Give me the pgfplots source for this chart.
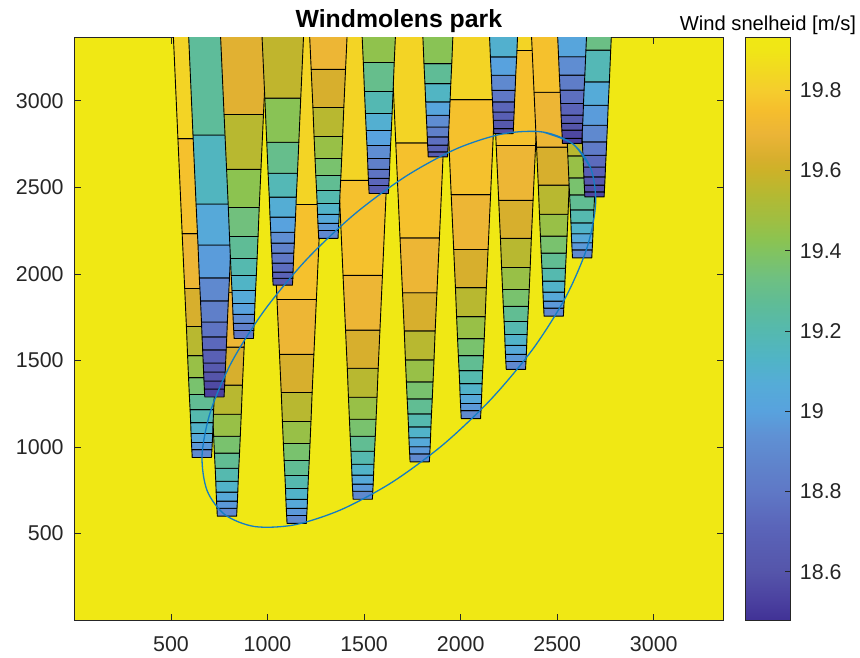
\documentclass[border=0pt]{standalone}
\usepackage{fontspec}
\setmainfont{Liberation Sans}
\usepackage{pgfplots}
\pgfplotsset{compat=1.18}
\usepgfplotslibrary{patchplots}
\definecolor{axgray}{gray}{0.15}
\definecolor{ellblue}{RGB}{20,125,195}
\definecolor{bgyellow}{RGB}{240,232,20}
\pgfplotsset{wake/.style={patch, patch type=rectangle, shader=faceted, faceted color=black, line width=0.45bp, point meta=explicit}}
\begin{document}
\begin{tikzpicture}
\useasboundingbox (-37.2bp,-19bp) rectangle (392.8bp,310bp);
\begin{axis}[
  at={(0,0)}, anchor=south west,
  scale only axis, width=324.45bp, height=291.05bp,
  xmin=0, xmax=3360, ymin=0, ymax=3364,
  xtick={500,1000,1500,2000,2500,3000}, xticklabels={500,1000,1500,2000,2500,3000},
  ytick={500,1000,1500,2000,2500,3000}, yticklabels={500,1000,1500,2000,2500,3000},
  tick align=inside, major tick length=3.2bp,
  axis line style={axgray, line width=0.4bp},
  tick style={axgray, line width=0.4bp},
  every tick label/.append style={font=\fontsize{10.7bp}{12bp}\selectfont, text=axgray},
  xticklabel style={yshift=-4.7bp},
  yticklabel style={xshift=-1.9bp},
  axis background/.style={fill=bgyellow},
  every axis title shift=0pt,
  title={Windmolens park},
  title style={font=\bfseries\fontsize{12.4bp}{14bp}\selectfont, at={(0.5,1)}, anchor=base, yshift=5.2bp},
  colormap={refparula}{
    rgb255(0cm)=(65,50,150) rgb255(5cm)=(75,65,160) rgb255(12cm)=(85,85,170)
    rgb255(23cm)=(90,100,185) rgb255(32cm)=(95,120,198) rgb255(38cm)=(95,130,203)
    rgb255(46cm)=(95,145,212) rgb255(52cm)=(88,162,222) rgb255(59cm)=(85,172,215)
    rgb255(65cm)=(80,180,198) rgb255(72cm)=(85,185,175) rgb255(79cm)=(95,188,150)
    rgb255(85cm)=(110,192,130) rgb255(92cm)=(130,195,95) rgb255(95cm)=(140,195,80)
    rgb255(100cm)=(160,190,65) rgb255(106cm)=(180,185,50) rgb255(112cm)=(205,178,40)
    rgb255(115cm)=(215,175,45) rgb255(121cm)=(235,180,55) rgb255(127cm)=(245,190,45)
    rgb255(132cm)=(245,205,45) rgb255(136cm)=(242,215,35) rgb255(142cm)=(240,230,22)
    rgb255(145cm)=(240,232,20)},
  point meta min=18.48, point meta max=19.93,
  colorbar,
  colorbar/width=22.2bp,
  colorbar style={
    at={(parent axis.north east)}, anchor=north west, xshift=2.7bp,
    scale only axis, height=291.05bp,
    ytick={18.6,18.8,19,19.2,19.4,19.6,19.8},
    yticklabels={18.6,18.8,19,19.2,19.4,19.6,19.8},
    ytick pos=right, yticklabel pos=right,
    tick align=inside, major tick length=2.5bp,
    axis line style={axgray, line width=0.4bp},
    tick style={axgray, line width=0.4bp},
    yticklabel style={font=\fontsize{10.7bp}{12bp}\selectfont, text=axgray, xshift=1.4bp},
    every axis title shift=0pt,
    title={Wind snelheid [m/s]},
    title style={font=\mdseries\fontsize{10.1bp}{12bp}\selectfont, at={(0.5,1)}, anchor=base, yshift=3.9bp},
  },
]
% T3
\addplot[wake] table[row sep=\\, meta=c] {x y c\\
1101 558 18.90\\1201 558 18.90\\1203 604 18.90\\1099 604 18.90\\
1099 604 18.97\\1203 604 18.97\\1205 645 18.97\\1097 645 18.97\\
1097 645 19.05\\1205 645 19.05\\1207 697 19.05\\1095 697 19.05\\
1095 697 19.12\\1207 697 19.12\\1209 760 19.12\\1093 760 19.12\\
1093 760 19.20\\1209 760 19.20\\1212 835 19.20\\1090 835 19.20\\
1090 835 19.28\\1212 835 19.28\\1216 922 19.28\\1086 922 19.28\\
1086 922 19.37\\1216 922 19.37\\1220 1020 19.37\\1082 1020 19.37\\
1082 1020 19.46\\1220 1020 19.46\\1225 1147 19.46\\1077 1147 19.46\\
1077 1147 19.55\\1225 1147 19.55\\1231 1315 19.55\\1071 1315 19.55\\
1071 1315 19.63\\1231 1315 19.63\\1240 1535 19.63\\1062 1535 19.63\\
1062 1535 19.70\\1240 1535 19.70\\1253 1852 19.70\\1049 1852 19.70\\
1049 1852 19.76\\1253 1852 19.76\\1275 2401 19.76\\1027 2401 19.76\\
1027 2401 19.83\\1275 2401 19.83\\1315 3407 19.83\\987 3407 19.83\\
};
% T2
\addplot[wake] table[row sep=\\, meta=c] {x y c\\
740 600 18.90\\840 600 18.90\\842 646 18.90\\738 646 18.90\\
738 646 18.97\\842 646 18.97\\844 687 18.97\\736 687 18.97\\
736 687 19.05\\844 687 19.05\\846 739 19.05\\734 739 19.05\\
734 739 19.12\\846 739 19.12\\848 802 19.12\\732 802 19.12\\
732 802 19.20\\848 802 19.20\\851 877 19.20\\729 877 19.20\\
729 877 19.28\\851 877 19.28\\855 964 19.28\\725 964 19.28\\
725 964 19.37\\855 964 19.37\\859 1062 19.37\\721 1062 19.37\\
721 1062 19.46\\859 1062 19.46\\864 1189 19.46\\716 1189 19.46\\
716 1189 19.55\\864 1189 19.55\\870 1357 19.55\\710 1357 19.55\\
710 1357 19.63\\870 1357 19.63\\879 1577 19.63\\701 1577 19.63\\
701 1577 19.70\\879 1577 19.70\\892 1894 19.70\\688 1894 19.70\\
688 1894 19.76\\892 1894 19.76\\914 2443 19.76\\666 2443 19.76\\
666 2443 19.83\\914 2443 19.83\\954 3449 19.83\\626 3449 19.83\\
};
% T4
\addplot[wake] table[row sep=\\, meta=c] {x y c\\
1443 698 18.90\\1543 698 18.90\\1545 744 18.90\\1441 744 18.90\\
1441 744 18.97\\1545 744 18.97\\1547 785 18.97\\1439 785 18.97\\
1439 785 19.05\\1547 785 19.05\\1549 837 19.05\\1437 837 19.05\\
1437 837 19.12\\1549 837 19.12\\1551 900 19.12\\1435 900 19.12\\
1435 900 19.20\\1551 900 19.20\\1554 975 19.20\\1432 975 19.20\\
1432 975 19.28\\1554 975 19.28\\1558 1062 19.28\\1428 1062 19.28\\
1428 1062 19.37\\1558 1062 19.37\\1562 1160 19.37\\1424 1160 19.37\\
1424 1160 19.46\\1562 1160 19.46\\1567 1287 19.46\\1419 1287 19.46\\
1419 1287 19.55\\1567 1287 19.55\\1573 1455 19.55\\1413 1455 19.55\\
1413 1455 19.63\\1573 1455 19.63\\1582 1675 19.63\\1404 1675 19.63\\
1404 1675 19.70\\1582 1675 19.70\\1595 1992 19.70\\1391 1992 19.70\\
1391 1992 19.76\\1595 1992 19.76\\1617 2541 19.76\\1369 2541 19.76\\
1369 2541 19.83\\1617 2541 19.83\\1657 3547 19.83\\1329 3547 19.83\\
};
% T5
\addplot[wake] table[row sep=\\, meta=c] {x y c\\
1738 914 18.90\\1838 914 18.90\\1840 960 18.90\\1736 960 18.90\\
1736 960 18.97\\1840 960 18.97\\1842 1001 18.97\\1734 1001 18.97\\
1734 1001 19.05\\1842 1001 19.05\\1844 1053 19.05\\1732 1053 19.05\\
1732 1053 19.12\\1844 1053 19.12\\1846 1116 19.12\\1730 1116 19.12\\
1730 1116 19.20\\1846 1116 19.20\\1849 1191 19.20\\1727 1191 19.20\\
1727 1191 19.28\\1849 1191 19.28\\1853 1278 19.28\\1723 1278 19.28\\
1723 1278 19.37\\1853 1278 19.37\\1857 1376 19.37\\1719 1376 19.37\\
1719 1376 19.46\\1857 1376 19.46\\1862 1503 19.46\\1714 1503 19.46\\
1714 1503 19.55\\1862 1503 19.55\\1868 1671 19.55\\1708 1671 19.55\\
1708 1671 19.63\\1868 1671 19.63\\1877 1891 19.63\\1699 1891 19.63\\
1699 1891 19.70\\1877 1891 19.70\\1890 2208 19.70\\1686 2208 19.70\\
1686 2208 19.76\\1890 2208 19.76\\1912 2757 19.76\\1664 2757 19.76\\
1664 2757 19.83\\1912 2757 19.83\\1952 3763 19.83\\1624 3763 19.83\\
};
% T1
\addplot[wake] table[row sep=\\, meta=c] {x y c\\
610 939 18.90\\710 939 18.90\\712 985 18.90\\608 985 18.90\\
608 985 18.97\\712 985 18.97\\714 1026 18.97\\606 1026 18.97\\
606 1026 19.05\\714 1026 19.05\\716 1078 19.05\\604 1078 19.05\\
604 1078 19.12\\716 1078 19.12\\718 1141 19.12\\602 1141 19.12\\
602 1141 19.20\\718 1141 19.20\\721 1216 19.20\\599 1216 19.20\\
599 1216 19.28\\721 1216 19.28\\725 1303 19.28\\595 1303 19.28\\
595 1303 19.37\\725 1303 19.37\\729 1401 19.37\\591 1401 19.37\\
591 1401 19.46\\729 1401 19.46\\734 1528 19.46\\586 1528 19.46\\
586 1528 19.55\\734 1528 19.55\\740 1696 19.55\\580 1696 19.55\\
580 1696 19.63\\740 1696 19.63\\749 1916 19.63\\571 1916 19.63\\
571 1916 19.70\\749 1916 19.70\\762 2233 19.70\\558 2233 19.70\\
558 2233 19.76\\762 2233 19.76\\784 2782 19.76\\536 2782 19.76\\
536 2782 19.83\\784 2782 19.83\\824 3788 19.83\\496 3788 19.83\\
};
% T6
\addplot[wake] table[row sep=\\, meta=c] {x y c\\
2003 1164 18.90\\2103 1164 18.90\\2105 1210 18.90\\2001 1210 18.90\\
2001 1210 18.97\\2105 1210 18.97\\2107 1251 18.97\\1999 1251 18.97\\
1999 1251 19.05\\2107 1251 19.05\\2109 1303 19.05\\1997 1303 19.05\\
1997 1303 19.12\\2109 1303 19.12\\2111 1366 19.12\\1995 1366 19.12\\
1995 1366 19.20\\2111 1366 19.20\\2114 1441 19.20\\1992 1441 19.20\\
1992 1441 19.28\\2114 1441 19.28\\2118 1528 19.28\\1988 1528 19.28\\
1988 1528 19.37\\2118 1528 19.37\\2122 1626 19.37\\1984 1626 19.37\\
1984 1626 19.46\\2122 1626 19.46\\2127 1753 19.46\\1979 1753 19.46\\
1979 1753 19.55\\2127 1753 19.55\\2133 1921 19.55\\1973 1921 19.55\\
1973 1921 19.63\\2133 1921 19.63\\2142 2141 19.63\\1964 2141 19.63\\
1964 2141 19.70\\2142 2141 19.70\\2155 2458 19.70\\1951 2458 19.70\\
1951 2458 19.76\\2155 2458 19.76\\2177 3007 19.76\\1929 3007 19.76\\
1929 3007 19.83\\2177 3007 19.83\\2217 4013 19.83\\1889 4013 19.83\\
};
% T17
\addplot[wake] table[row sep=\\, meta=c] {x y c\\
675 1289 18.53\\775 1289 18.53\\777 1335 18.53\\673 1335 18.53\\
673 1335 18.56\\777 1335 18.56\\779 1381 18.56\\671 1381 18.56\\
671 1381 18.60\\779 1381 18.60\\781 1433 18.60\\669 1433 18.60\\
669 1433 18.64\\781 1433 18.64\\783 1485 18.64\\667 1485 18.64\\
667 1485 18.68\\783 1485 18.68\\786 1561 18.68\\664 1561 18.68\\
664 1561 18.73\\786 1561 18.73\\789 1636 18.73\\661 1636 18.73\\
661 1636 18.78\\789 1636 18.78\\792 1722 18.78\\658 1722 18.78\\
658 1722 18.84\\792 1722 18.84\\797 1844 18.84\\653 1844 18.84\\
653 1844 18.90\\797 1844 18.90\\803 1977 18.90\\647 1977 18.90\\
647 1977 18.98\\803 1977 18.98\\810 2167 18.98\\640 2167 18.98\\
640 2167 19.05\\810 2167 19.05\\820 2404 19.05\\630 2404 19.05\\
630 2404 19.15\\820 2404 19.15\\836 2803 19.15\\614 2803 19.15\\
614 2803 19.26\\836 2803 19.26\\859 3389 19.26\\591 3389 19.26\\
};
% T7
\addplot[wake] table[row sep=\\, meta=c] {x y c\\
2236 1448 18.90\\2336 1448 18.90\\2338 1494 18.90\\2234 1494 18.90\\
2234 1494 18.97\\2338 1494 18.97\\2340 1535 18.97\\2232 1535 18.97\\
2232 1535 19.05\\2340 1535 19.05\\2342 1587 19.05\\2230 1587 19.05\\
2230 1587 19.12\\2342 1587 19.12\\2344 1650 19.12\\2228 1650 19.12\\
2228 1650 19.20\\2344 1650 19.20\\2347 1725 19.20\\2225 1725 19.20\\
2225 1725 19.28\\2347 1725 19.28\\2351 1812 19.28\\2221 1812 19.28\\
2221 1812 19.37\\2351 1812 19.37\\2355 1910 19.37\\2217 1910 19.37\\
2217 1910 19.46\\2355 1910 19.46\\2360 2037 19.46\\2212 2037 19.46\\
2212 2037 19.55\\2360 2037 19.55\\2366 2205 19.55\\2206 2205 19.55\\
2206 2205 19.63\\2366 2205 19.63\\2375 2425 19.63\\2197 2425 19.63\\
2197 2425 19.70\\2375 2425 19.70\\2388 2742 19.70\\2184 2742 19.70\\
2184 2742 19.76\\2388 2742 19.76\\2410 3291 19.76\\2162 3291 19.76\\
2162 3291 19.83\\2410 3291 19.83\\2450 4297 19.83\\2122 4297 19.83\\
};
% T16
\addplot[wake] table[row sep=\\, meta=c] {x y c\\
827 1627 18.80\\927 1627 18.80\\929 1673 18.80\\825 1673 18.80\\
825 1673 18.85\\929 1673 18.85\\931 1714 18.85\\823 1714 18.85\\
823 1714 18.92\\931 1714 18.92\\933 1766 18.92\\821 1766 18.92\\
821 1766 19.00\\933 1766 19.00\\935 1829 19.00\\819 1829 19.00\\
819 1829 19.06\\935 1829 19.06\\938 1904 19.06\\816 1904 19.06\\
816 1904 19.13\\938 1904 19.13\\942 1991 19.13\\812 1991 19.13\\
812 1991 19.20\\942 1991 19.20\\946 2089 19.20\\808 2089 19.20\\
808 2089 19.27\\946 2089 19.27\\951 2216 19.27\\803 2216 19.27\\
803 2216 19.34\\951 2216 19.34\\957 2384 19.34\\797 2384 19.34\\
797 2384 19.43\\957 2384 19.43\\966 2604 19.43\\788 2604 19.43\\
788 2604 19.55\\966 2604 19.55\\979 2921 19.55\\775 2921 19.55\\
775 2921 19.66\\979 2921 19.66\\1001 3470 19.66\\753 3470 19.66\\
};
% T8
\addplot[wake] table[row sep=\\, meta=c] {x y c\\
2432 1756 18.90\\2532 1756 18.90\\2534 1802 18.90\\2430 1802 18.90\\
2430 1802 18.97\\2534 1802 18.97\\2536 1843 18.97\\2428 1843 18.97\\
2428 1843 19.05\\2536 1843 19.05\\2538 1895 19.05\\2426 1895 19.05\\
2426 1895 19.12\\2538 1895 19.12\\2540 1958 19.12\\2424 1958 19.12\\
2424 1958 19.20\\2540 1958 19.20\\2543 2033 19.20\\2421 2033 19.20\\
2421 2033 19.28\\2543 2033 19.28\\2547 2120 19.28\\2417 2120 19.28\\
2417 2120 19.37\\2547 2120 19.37\\2551 2218 19.37\\2413 2218 19.37\\
2413 2218 19.46\\2551 2218 19.46\\2556 2345 19.46\\2408 2345 19.46\\
2408 2345 19.55\\2556 2345 19.55\\2562 2513 19.55\\2402 2513 19.55\\
2402 2513 19.63\\2562 2513 19.63\\2571 2733 19.63\\2393 2733 19.63\\
2393 2733 19.70\\2571 2733 19.70\\2584 3050 19.70\\2380 3050 19.70\\
2380 3050 19.76\\2584 3050 19.76\\2606 3599 19.76\\2358 3599 19.76\\
};
% T15
\addplot[wake] table[row sep=\\, meta=c] {x y c\\
1029 1935 18.65\\1129 1935 18.65\\1131 1975 18.65\\1027 1975 18.65\\
1027 1975 18.70\\1131 1975 18.70\\1132 2010 18.70\\1026 2010 18.70\\
1026 2010 18.75\\1132 2010 18.75\\1134 2062 18.75\\1024 2062 18.75\\
1024 2062 18.80\\1134 2062 18.80\\1136 2120 18.80\\1022 2120 18.80\\
1022 2120 18.86\\1136 2120 18.86\\1139 2178 18.86\\1019 2178 18.86\\
1019 2178 18.93\\1139 2178 18.93\\1141 2241 18.93\\1017 2241 18.93\\
1017 2241 19.00\\1141 2241 19.00\\1145 2328 19.00\\1013 2328 19.00\\
1013 2328 19.08\\1145 2328 19.08\\1149 2444 19.08\\1009 2444 19.08\\
1009 2444 19.18\\1149 2444 19.18\\1155 2582 19.18\\1003 2582 19.18\\
1003 2582 19.30\\1155 2582 19.30\\1162 2761 19.30\\996 2761 19.30\\
996 2761 19.42\\1162 2761 19.42\\1172 3016 19.42\\986 3016 19.42\\
986 3016 19.57\\1172 3016 19.57\\1189 3435 19.57\\969 3435 19.57\\
};
% T9
\addplot[wake] table[row sep=\\, meta=c] {x y c\\
2579 2093 18.90\\2679 2093 18.90\\2681 2139 18.90\\2577 2139 18.90\\
2577 2139 18.97\\2681 2139 18.97\\2683 2180 18.97\\2575 2180 18.97\\
2575 2180 19.05\\2683 2180 19.05\\2685 2232 19.05\\2573 2232 19.05\\
2573 2232 19.12\\2685 2232 19.12\\2687 2295 19.12\\2571 2295 19.12\\
2571 2295 19.20\\2687 2295 19.20\\2690 2370 19.20\\2568 2370 19.20\\
2568 2370 19.28\\2690 2370 19.28\\2694 2457 19.28\\2564 2457 19.28\\
2564 2457 19.37\\2694 2457 19.37\\2698 2555 19.37\\2560 2555 19.37\\
2560 2555 19.46\\2698 2555 19.46\\2703 2682 19.46\\2555 2682 19.46\\
2555 2682 19.55\\2703 2682 19.55\\2709 2850 19.55\\2549 2850 19.55\\
2549 2850 19.63\\2709 2850 19.63\\2718 3070 19.63\\2540 3070 19.63\\
2540 3070 19.70\\2718 3070 19.70\\2731 3387 19.70\\2527 3387 19.70\\
};
% T14b
\addplot[wake] table[row sep=\\, meta=c] {x y c\\
1265 2205 18.90\\1365 2205 18.90\\1367 2251 18.90\\1263 2251 18.90\\
1263 2251 18.97\\1367 2251 18.97\\1369 2292 18.97\\1261 2292 18.97\\
1261 2292 19.05\\1369 2292 19.05\\1371 2344 19.05\\1259 2344 19.05\\
1259 2344 19.12\\1371 2344 19.12\\1373 2407 19.12\\1257 2407 19.12\\
1257 2407 19.20\\1373 2407 19.20\\1376 2482 19.20\\1254 2482 19.20\\
1254 2482 19.28\\1376 2482 19.28\\1380 2569 19.28\\1250 2569 19.28\\
1250 2569 19.37\\1380 2569 19.37\\1384 2667 19.37\\1246 2667 19.37\\
1246 2667 19.46\\1384 2667 19.46\\1389 2794 19.46\\1241 2794 19.46\\
1241 2794 19.55\\1389 2794 19.55\\1395 2962 19.55\\1235 2962 19.55\\
1235 2962 19.63\\1395 2962 19.63\\1404 3182 19.63\\1226 3182 19.63\\
1226 3182 19.70\\1404 3182 19.70\\1417 3499 19.70\\1213 3499 19.70\\
};
% T10
\addplot[wake] table[row sep=\\, meta=c] {x y c\\
2643 2445 18.55\\2743 2445 18.55\\2744 2474 18.55\\2642 2474 18.55\\
2642 2474 18.58\\2744 2474 18.58\\2746 2513 18.58\\2640 2513 18.58\\
2640 2513 18.63\\2746 2513 18.63\\2748 2561 18.63\\2638 2561 18.63\\
2638 2561 18.68\\2748 2561 18.68\\2750 2618 18.68\\2636 2618 18.68\\
2636 2618 18.74\\2750 2618 18.74\\2753 2686 18.74\\2633 2686 18.74\\
2633 2686 18.82\\2753 2686 18.82\\2756 2763 18.82\\2630 2763 18.82\\
2630 2763 18.90\\2756 2763 18.90\\2760 2859 18.90\\2626 2859 18.90\\
2626 2859 18.98\\2760 2859 18.98\\2764 2975 18.98\\2622 2975 18.98\\
2622 2975 19.06\\2764 2975 19.06\\2770 3110 19.06\\2616 3110 19.06\\
2616 3110 19.18\\2770 3110 19.18\\2777 3293 19.18\\2609 3293 19.18\\
2609 3293 19.32\\2777 3293 19.32\\2787 3545 19.32\\2599 3545 19.32\\
};
% T14
\addplot[wake] table[row sep=\\, meta=c] {x y c\\
1526 2465 18.66\\1626 2465 18.66\\1628 2511 18.66\\1524 2511 18.66\\
1524 2511 18.72\\1628 2511 18.72\\1630 2552 18.72\\1522 2552 18.72\\
1522 2552 18.78\\1630 2552 18.78\\1632 2604 18.78\\1520 2604 18.78\\
1520 2604 18.84\\1632 2604 18.84\\1634 2667 18.84\\1518 2667 18.84\\
1518 2667 18.92\\1634 2667 18.92\\1637 2742 18.92\\1515 2742 18.92\\
1515 2742 19.00\\1637 2742 19.00\\1641 2829 19.00\\1511 2829 19.00\\
1511 2829 19.09\\1641 2829 19.09\\1645 2927 19.09\\1507 2927 19.09\\
1507 2927 19.19\\1645 2927 19.19\\1650 3054 19.19\\1502 3054 19.19\\
1502 3054 19.30\\1650 3054 19.30\\1656 3222 19.30\\1496 3222 19.30\\
1496 3222 19.44\\1656 3222 19.44\\1665 3442 19.44\\1487 3442 19.44\\
};
% T13
\addplot[wake] table[row sep=\\, meta=c] {x y c\\
1832 2676 18.66\\1932 2676 18.66\\1933 2705 18.66\\1831 2705 18.66\\
1831 2705 18.70\\1933 2705 18.70\\1935 2744 18.70\\1829 2744 18.70\\
1829 2744 18.76\\1935 2744 18.76\\1937 2792 18.76\\1827 2792 18.76\\
1827 2792 18.84\\1937 2792 18.84\\1939 2849 18.84\\1825 2849 18.84\\
1825 2849 18.92\\1939 2849 18.92\\1942 2917 18.92\\1822 2917 18.92\\
1822 2917 19.02\\1942 2917 19.02\\1945 2994 19.02\\1819 2994 19.02\\
1819 2994 19.14\\1945 2994 19.14\\1949 3100 19.14\\1815 3100 19.14\\
1815 3100 19.27\\1949 3100 19.27\\1954 3215 19.27\\1810 3215 19.27\\
1810 3215 19.42\\1954 3215 19.42\\1962 3436 19.42\\1802 3436 19.42\\
};
% T11
\addplot[wake] table[row sep=\\, meta=c] {x y c\\
2527 2754 18.52\\2627 2754 18.52\\2628 2783 18.52\\2526 2783 18.52\\
2526 2783 18.55\\2628 2783 18.55\\2630 2831 18.55\\2524 2831 18.55\\
2524 2831 18.60\\2630 2831 18.60\\2632 2870 18.60\\2522 2870 18.60\\
2522 2870 18.65\\2632 2870 18.65\\2634 2918 18.65\\2520 2918 18.65\\
2520 2918 18.70\\2634 2918 18.70\\2636 2985 18.70\\2518 2985 18.70\\
2518 2985 18.76\\2636 2985 18.76\\2639 3062 18.76\\2515 3062 18.76\\
2515 3062 18.83\\2639 3062 18.83\\2643 3149 18.83\\2511 3149 18.83\\
2511 3149 18.92\\2643 3149 18.92\\2647 3255 18.92\\2507 3255 18.92\\
2507 3255 19.02\\2647 3255 19.02\\2653 3404 19.02\\2501 3404 19.02\\
};
% T12
\addplot[wake] table[row sep=\\, meta=c] {x y c\\
2172 2811 18.58\\2272 2811 18.58\\2273 2840 18.58\\2171 2840 18.58\\
2171 2840 18.62\\2273 2840 18.62\\2275 2888 18.62\\2169 2888 18.62\\
2169 2888 18.67\\2275 2888 18.67\\2277 2936 18.67\\2167 2936 18.67\\
2167 2936 18.72\\2277 2936 18.72\\2279 2994 18.72\\2165 2994 18.72\\
2165 2994 18.80\\2279 2994 18.80\\2282 3061 18.80\\2162 3061 18.80\\
2162 3061 18.90\\2282 3061 18.90\\2285 3148 18.90\\2159 3148 18.90\\
2159 3148 19.00\\2285 3148 19.00\\2290 3254 19.00\\2154 3254 19.00\\
2154 3254 19.10\\2290 3254 19.10\\2296 3411 19.10\\2148 3411 19.10\\
};
% park boundary (ellipse)
\addplot[ellblue, line width=0.65bp, smooth, no markers] coordinates {
(2673,2612) (2580,2752) (2426,2820) (2220,2810) (1978,2723) (1716,2564)
(1451,2346) (1201,2082) (985,1791) (815,1492) (705,1206) (661,952)
(687,748) (780,608) (934,540) (1140,550) (1382,638) (1645,796)
(1910,1014) (2159,1278) (2376,1569) (2545,1868) (2655,2154) (2699,2408)
(2673,2612) (2580,2752) (2426,2820)
};
\end{axis}
\end{tikzpicture}
\end{document}
